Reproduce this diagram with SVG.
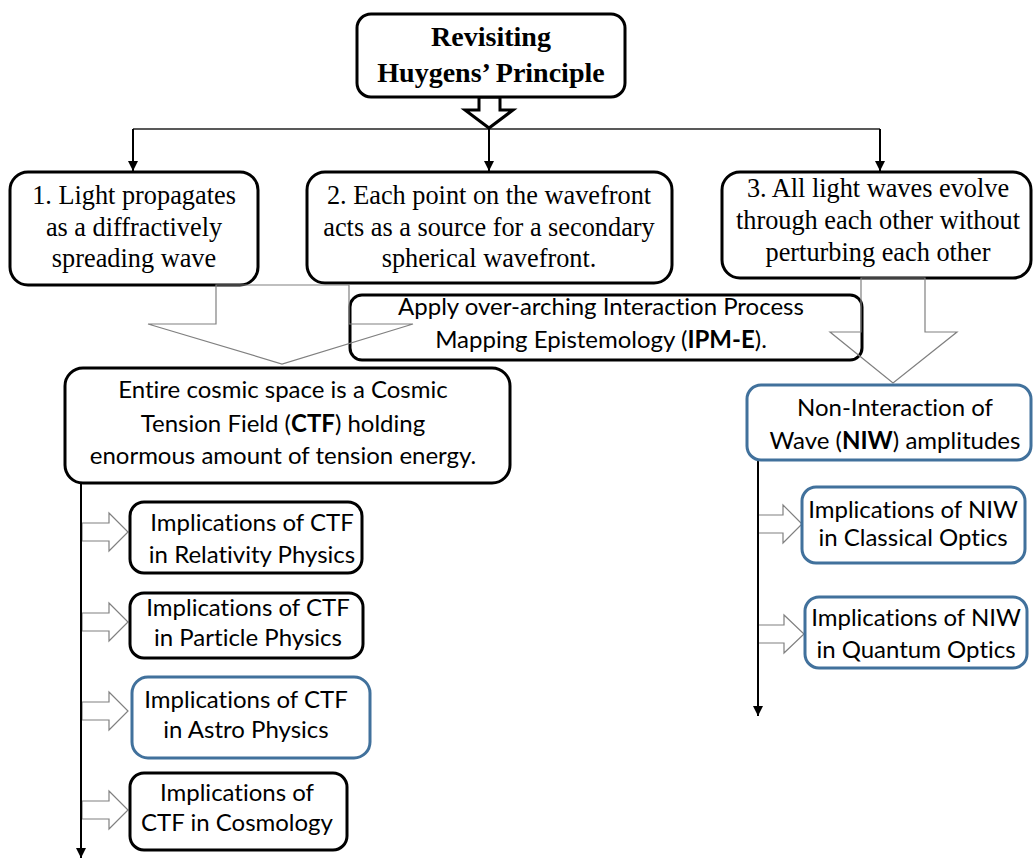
<svg xmlns="http://www.w3.org/2000/svg" width="1034" height="861" viewBox="0 0 1034 861">
<defs>
<marker id="ah" markerUnits="userSpaceOnUse" markerWidth="12" markerHeight="12" refX="10" refY="5" orient="auto"><path d="M0,0 L10,5 L0,10 z" fill="#000"/></marker>
<style>
.box{fill:#fff;stroke:#000;stroke-width:3}
.bbox{fill:#fff;stroke:#41719C;stroke-width:3}
.serif{font-family:"Liberation Serif","Times New Roman",serif;font-size:26.3px;fill:#000;text-anchor:middle}
.title{font-family:"Liberation Serif","Times New Roman",serif;font-size:28px;font-weight:bold;fill:#000;text-anchor:middle}
.sans{font-family:Lato,"Open Sans",sans-serif;font-size:24px;fill:#000;text-anchor:middle;font-variant-ligatures:none;font-feature-settings:"liga" 0,"dlig" 0,"clig" 0}
.ha{fill:#fff;stroke:#808080;stroke-width:1.2}
.big{fill:none;stroke:#808080;stroke-width:1.2}
.ln{stroke:#000;stroke-width:2;fill:none}
</style>
</defs>
<rect width="1034" height="861" fill="#fff"/>
<g id="connectors">
<line x1="133" y1="129" x2="880" y2="129" stroke="#222" stroke-width="1.5"/>
<line class="ln" x1="133" y1="129" x2="133" y2="171" marker-end="url(#ah)"/>
<line class="ln" x1="489" y1="128" x2="489" y2="171" marker-end="url(#ah)"/>
<line class="ln" x1="880" y1="129" x2="880" y2="171" marker-end="url(#ah)"/>
<polygon points="479,97 500,97 500,110 513,110 489,128 465,110 479,110" fill="#fff" stroke="#000" stroke-width="3" stroke-linejoin="miter"/>
<polygon class="ha" points="82,523 109,523 109,513 128,532 109,551 109,541 82,541"/>
<polygon class="ha" points="82,613 109,613 109,603 128,622 109,641 109,631 82,631"/>
<polygon class="ha" points="82,702 109,702 109,692 128,711 109,730 109,720 82,720"/>
<polygon class="ha" points="82,801 109,801 109,791 128,810 109,829 109,819 82,819"/>
<polygon class="ha" points="758,515 783,515 783,505 802,524 783,543 783,533 758,533"/>
<polygon class="ha" points="758,625 784,625 784,615 804,634 784,653 784,643 758,643"/>
<line class="ln" x1="81" y1="483" x2="81" y2="858" marker-end="url(#ah)"/>
<line class="ln" x1="758" y1="460" x2="758" y2="716" marker-end="url(#ah)"/>
</g>
<g id="title"><rect class="box" x="357" y="14" width="268" height="83" rx="14" stroke-width="3.5"/>
<text class="title" x="491" y="46">Revisiting</text><text class="title" x="491" y="82">Huygens’ Principle</text></g>
<g id="p1"><rect class="box" x="10" y="172" width="248" height="113" rx="18"/>
<text class="serif" x="134" y="204">1. Light propagates</text><text class="serif" x="134" y="236">as a diffractively</text><text class="serif" x="134" y="267">spreading wave</text></g>
<g id="p2"><rect class="box" x="307" y="172" width="365" height="111" rx="18"/>
<text class="serif" x="489" y="204">2. Each point on the wavefront</text><text class="serif" x="489" y="236">acts as a source for a secondary</text><text class="serif" x="489" y="267">spherical wavefront.</text></g>
<g id="p3"><rect class="box" x="722" y="172" width="309" height="106" rx="18"/>
<text class="serif" x="878" y="197">3. All light waves evolve</text><text class="serif" x="878" y="229">through each other without</text><text class="serif" x="878" y="261">perturbing each other</text></g>
<g id="ipm"><rect class="box" x="350" y="295" width="512" height="65" rx="12"/>
<text class="sans" x="601" y="315">Apply over-arching Interaction Process</text><text class="sans" x="601" y="348">Mapping Epistemology (<tspan font-weight="bold">IPM-E</tspan>).</text></g>
<g id="bigarrows">
<polygon class="big" points="216,285 349,285 349,324 413,324 282,364 148,324 216,324"/>
<polygon class="big" points="861,278 925,278 925,332 957,332 893,383 830,332 861,332"/>
</g>
<g id="ctf"><rect class="box" x="65" y="368" width="445" height="115" rx="18"/>
<text class="sans" x="283" y="398">Entire cosmic space is a Cosmic</text><text class="sans" x="283" y="432">Tension Field (<tspan font-weight="bold">CTF</tspan>) holding</text><text class="sans" x="283" y="464">enormous amount of tension energy.</text></g>
<g id="niw"><rect class="bbox" x="747" y="385" width="284" height="75" rx="14"/>
<text class="sans" x="895" y="416">Non-Interaction of</text><text class="sans" x="895" y="449">Wave (<tspan font-weight="bold">NIW</tspan>) amplitudes</text></g>
<g id="rel"><rect class="box" x="130" y="502" width="232" height="71" rx="14"/>
<text class="sans" x="252" y="531">Implications of CTF</text><text class="sans" x="252" y="563">in Relativity Physics</text></g>
<g id="part"><rect class="box" x="130" y="593" width="233" height="65" rx="14"/>
<text class="sans" x="248" y="616">Implications of CTF</text><text class="sans" x="248" y="646">in Particle Physics</text></g>
<g id="astro"><rect class="bbox" x="132" y="677" width="238" height="81" rx="16"/>
<text class="sans" x="246" y="708">Implications of CTF</text><text class="sans" x="246" y="738">in Astro Physics</text></g>
<g id="cosmo"><rect class="box" x="130" y="773" width="217" height="77" rx="14"/>
<text class="sans" x="237" y="801">Implications of</text><text class="sans" x="237" y="831">CTF in Cosmology</text></g>
<g id="classical"><rect class="bbox" x="802" y="487" width="223" height="76" rx="14"/>
<text class="sans" x="913" y="518">Implications of NIW</text><text class="sans" x="913" y="546">in Classical Optics</text></g>
<g id="quantum"><rect class="bbox" x="805" y="597" width="222" height="71" rx="14"/>
<text class="sans" x="916" y="626">Implications of NIW</text><text class="sans" x="916" y="658">in Quantum Optics</text></g>
</svg>
